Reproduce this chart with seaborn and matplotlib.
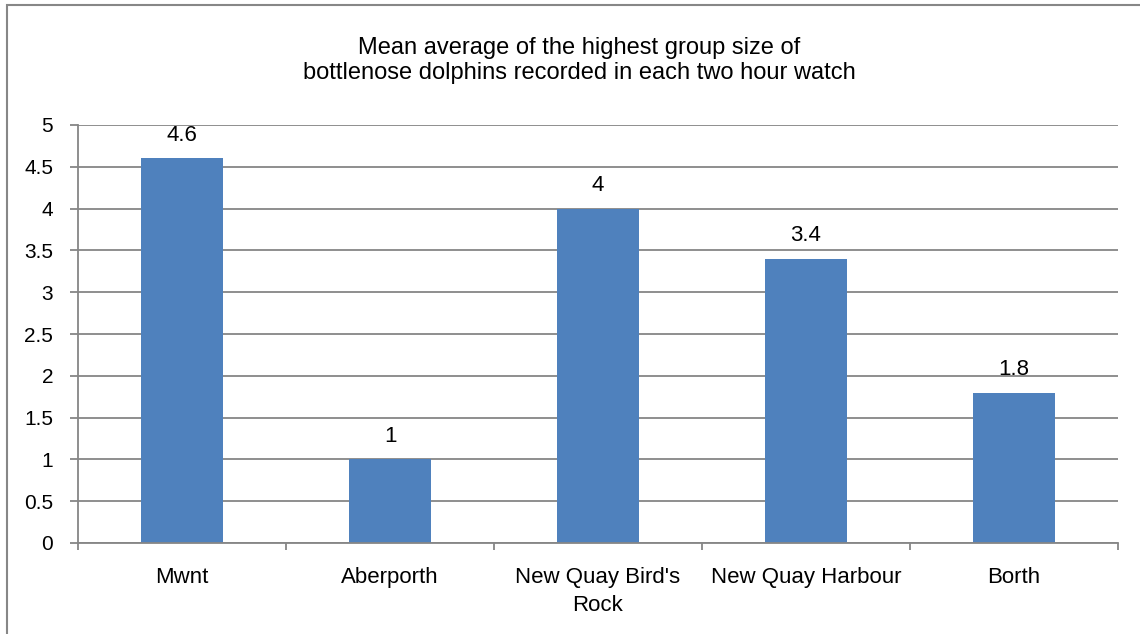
import matplotlib
matplotlib.use("Agg")
import matplotlib.pyplot as plt
import matplotlib.patches as mpatches
from matplotlib.ticker import FixedLocator, MultipleLocator
import seaborn as sns
import pandas as pd

categories = ["Mwnt", "Aberporth", "New Quay Bird's\nRock", "New Quay Harbour", "Borth"]
values = [4.6, 1.0, 4.0, 3.4, 1.8]
value_labels = ["4.6", "1", "4", "3.4", "1.8"]
title = "Mean average of the highest group size of\nbottlenose dolphins recorded in each two hour watch"

sns.set_theme(style="white")
plt.rcParams['font.family'] = ['Liberation Sans', 'DejaVu Sans']

W, H = 1140, 634
fig = plt.figure(figsize=(W / 100, H / 100), dpi=100)
ax = fig.add_axes([78 / W, 1 - 543 / H, (1118 - 78) / W, (543 - 125) / H])

df = pd.DataFrame({"site": categories, "value": values})
sns.barplot(data=df, x="site", y="value", ax=ax, color="#4F81BD", saturation=1,
            width=0.395, edgecolor="none", linewidth=0)

grid_c = "#868686"
ax.set_ylim(0, 5)
ax.set_xlim(-0.5, len(categories) - 0.5)
ax.yaxis.set_major_locator(MultipleLocator(0.5))
ax.set_yticklabels([f"{t:g}" for t in ax.get_yticks()])
ax.grid(axis="y", color=grid_c, linewidth=1.3)
ax.set_axisbelow(True)
for s in ["top", "right"]:
    ax.spines[s].set_visible(False)
for s in ["left", "bottom"]:
    ax.spines[s].set_color(grid_c)
    ax.spines[s].set_linewidth(1.3)

ax.tick_params(axis="y", which="major", left=True, length=5.8, width=1.3, color=grid_c,
               pad=12, labelsize=15, labelcolor="black")
ax.tick_params(axis="x", which="major", bottom=False, length=0, pad=17.5,
               labelsize=16, labelcolor="black")
ax.xaxis.set_minor_locator(FixedLocator([i - 0.5 for i in range(len(categories) + 1)]))
ax.tick_params(axis="x", which="minor", bottom=True, length=5, width=1.3, color=grid_c)
for lab in ax.get_xticklabels():
    lab.set_linespacing(1.42)

ax.set_xlabel("")
ax.set_ylabel("")

for i, (v, t) in enumerate(zip(values, value_labels)):
    ax.annotate(t, xy=(i, v), xytext=(0, 12.5), textcoords="offset points",
                ha="center", va="baseline", fontsize=16, color="black")

fig.text(579 / W, 1 - 79 / H, title, ha="center", va="baseline", fontsize=17,
         linespacing=1.15, color="black")

border = mpatches.Rectangle((6.5 / W, -0.2), 1.2, 1.2 - 4.5 / H, transform=fig.transFigure,
                            fill=False, edgecolor="#878787", linewidth=1.5)
fig.patches.append(border)

fig.savefig("out.png", dpi=100, facecolor="white")
